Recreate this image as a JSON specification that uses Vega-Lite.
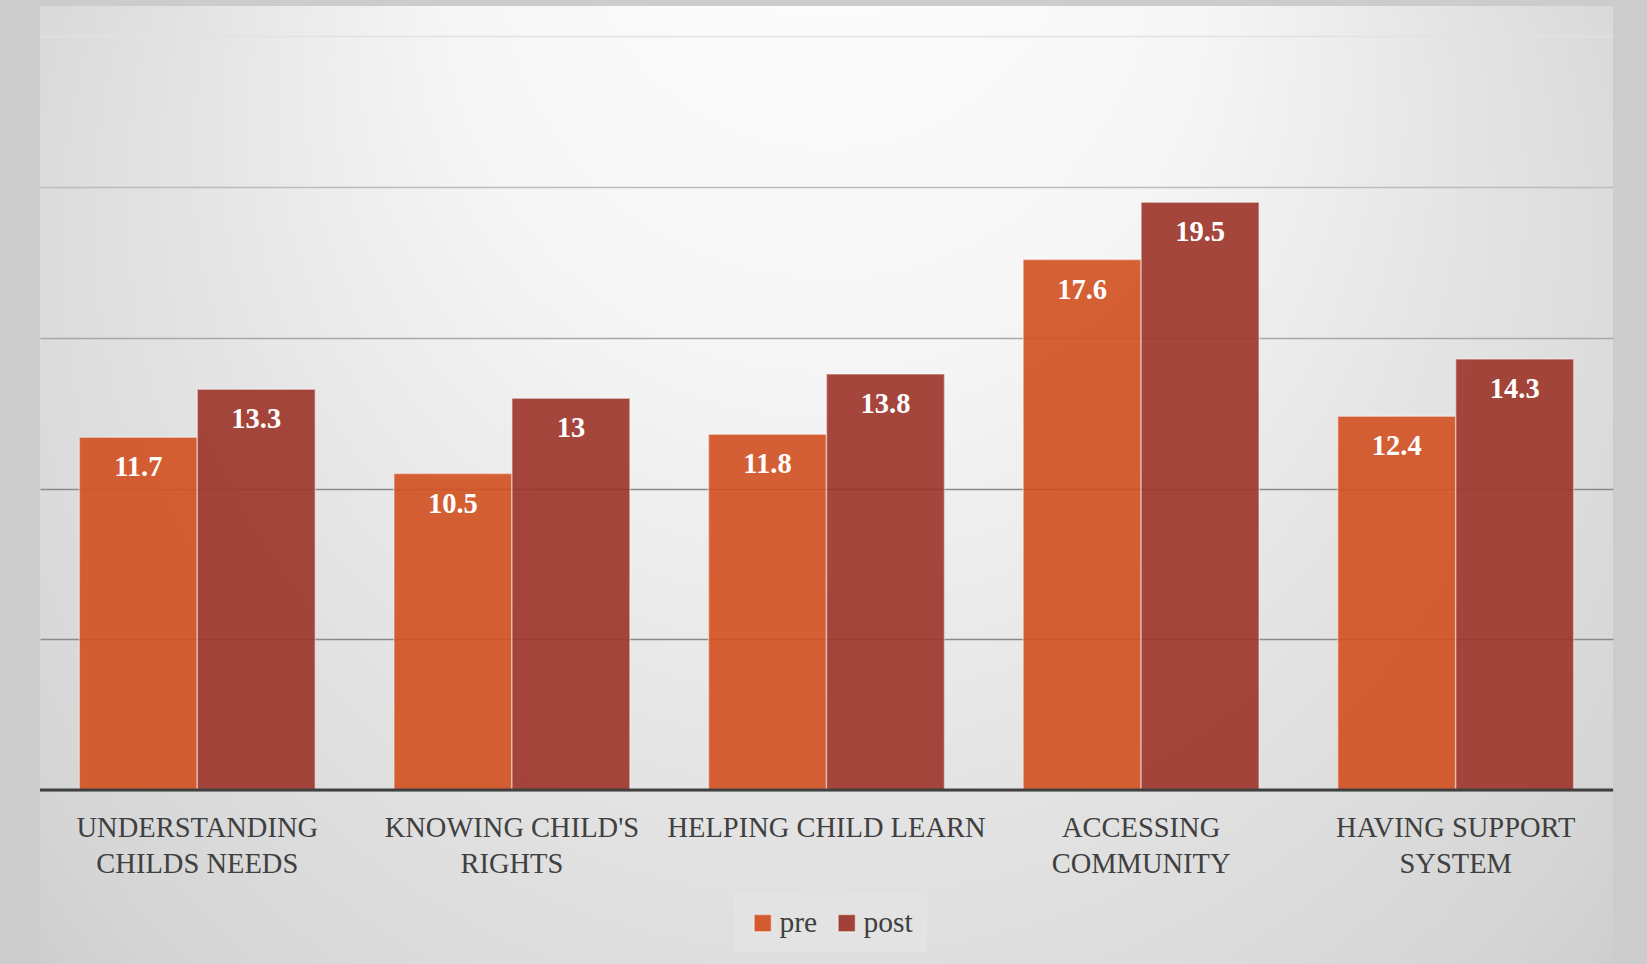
{
  "$schema": "https://vega.github.io/schema/vega-lite/v6.json",
  "width": 1573,
  "height": 958,
  "autosize": {"type": "none"},
  "padding": {"left": 40, "top": 6, "right": 34, "bottom": 0},
  "background": "#cccccc",
  "config": {
    "font": "Liberation Serif",
    "view": {
      "stroke": null,
      "fill": {
        "gradient": "radial",
        "x1": 0.5, "y1": 0.02, "r1": 0,
        "x2": 0.5, "y2": 0.474, "r2": 0.676,
        "stops": [
          {"offset": 0, "color": "#ffffff"},
          {"offset": 0.35, "color": "#f6f6f6"},
          {"offset": 0.6, "color": "#e4e4e4"},
          {"offset": 0.85, "color": "#d5d5d5"},
          {"offset": 1, "color": "#c6c6c6"}
        ]
      }
    }
  },
  "data": {
    "values": [
      {"category": "UNDERSTANDING CHILDS NEEDS", "series": "pre", "value": 11.7},
      {"category": "UNDERSTANDING CHILDS NEEDS", "series": "post", "value": 13.3},
      {"category": "KNOWING CHILD'S RIGHTS", "series": "pre", "value": 10.5},
      {"category": "KNOWING CHILD'S RIGHTS", "series": "post", "value": 13},
      {"category": "HELPING CHILD LEARN", "series": "pre", "value": 11.8},
      {"category": "HELPING CHILD LEARN", "series": "post", "value": 13.8},
      {"category": "ACCESSING COMMUNITY", "series": "pre", "value": 17.6},
      {"category": "ACCESSING COMMUNITY", "series": "post", "value": 19.5},
      {"category": "HAVING SUPPORT SYSTEM", "series": "pre", "value": 12.4},
      {"category": "HAVING SUPPORT SYSTEM", "series": "post", "value": 14.3}
    ]
  },
  "layer": [
    {
      "mark": {"type": "bar", "opacity": 0.9, "stroke": "#ffffff", "strokeOpacity": 0.45, "strokeWidth": 1.5},
      "encoding": {
        "x": {
          "field": "category", "type": "nominal", "sort": null,
          "scale": {"paddingInner": 0.25, "paddingOuter": 0.125},
          "axis": {
            "orient": "bottom", "offset": -174, "domain": false, "ticks": false,
            "labelPadding": 23, "labelAngle": 0, "labelFont": "Liberation Serif",
            "labelFontSize": 28.5, "labelColor": "#404040", "labelLineHeight": 36,
            "labelLimit": 0, "title": null,
            "labelExpr": "datum.value == 'UNDERSTANDING CHILDS NEEDS' ? ['UNDERSTANDING', 'CHILDS NEEDS'] : datum.value == \"KNOWING CHILD'S RIGHTS\" ? [\"KNOWING CHILD'S\", 'RIGHTS'] : datum.value == 'ACCESSING COMMUNITY' ? ['ACCESSING', 'COMMUNITY'] : datum.value == 'HAVING SUPPORT SYSTEM' ? ['HAVING SUPPORT', 'SYSTEM'] : datum.label"
          }
        },
        "xOffset": {
          "field": "series", "type": "nominal", "sort": ["pre", "post"],
          "scale": {"paddingInner": 0, "paddingOuter": 0}
        },
        "y": {
          "field": "value", "type": "quantitative",
          "scale": {"domain": [-5.771, 26.01], "nice": false, "zero": false},
          "axis": {
            "values": [0, 5, 10, 15, 20, 25], "labels": false, "ticks": false,
            "domain": false, "title": null, "gridWidth": 1.6,
            "gridColor": {"expr": "datum.value >= 25 ? '#e2e2e2' : datum.value >= 20 ? '#bcbcbc' : datum.value >= 15 ? '#a8a8a8' : '#8a8a8a'"}
          }
        },
        "y2": {"datum": 0},
        "color": {
          "field": "series", "type": "nominal", "sort": ["pre", "post"],
          "scale": {"domain": ["pre", "post"], "range": ["#d25020", "#9d3429"]},
          "legend": {
            "orient": "none", "legendX": 694, "legendY": 888, "direction": "horizontal",
            "title": null, "fillColor": "#e3e3e3", "padding": 14,
            "symbolType": "square", "symbolSize": 300,
            "symbolStrokeColor": "rgba(255,255,255,0.5)", "symbolStrokeWidth": 1.5,
            "symbolOpacity": 0.92,
            "labelFont": "Liberation Serif", "labelFontSize": 29.5, "labelColor": "#404040",
            "labelOffset": 2, "columnPadding": 14
          }
        }
      }
    },
    {
      "mark": {"type": "text", "color": "#ffffff", "fontWeight": "bold", "fontSize": 28.5, "font": "Liberation Serif", "dy": 39, "baseline": "alphabetic"},
      "encoding": {
        "x": {"field": "category", "type": "nominal", "sort": null},
        "xOffset": {"field": "series", "type": "nominal", "sort": ["pre", "post"]},
        "y": {"field": "value", "type": "quantitative"},
        "text": {"field": "value", "type": "quantitative"}
      }
    },
    {
      "data": {"values": [{}]},
      "mark": {"type": "rule", "color": "#404040", "strokeWidth": 3},
      "encoding": {"y": {"datum": 0}}
    }
  ]
}
